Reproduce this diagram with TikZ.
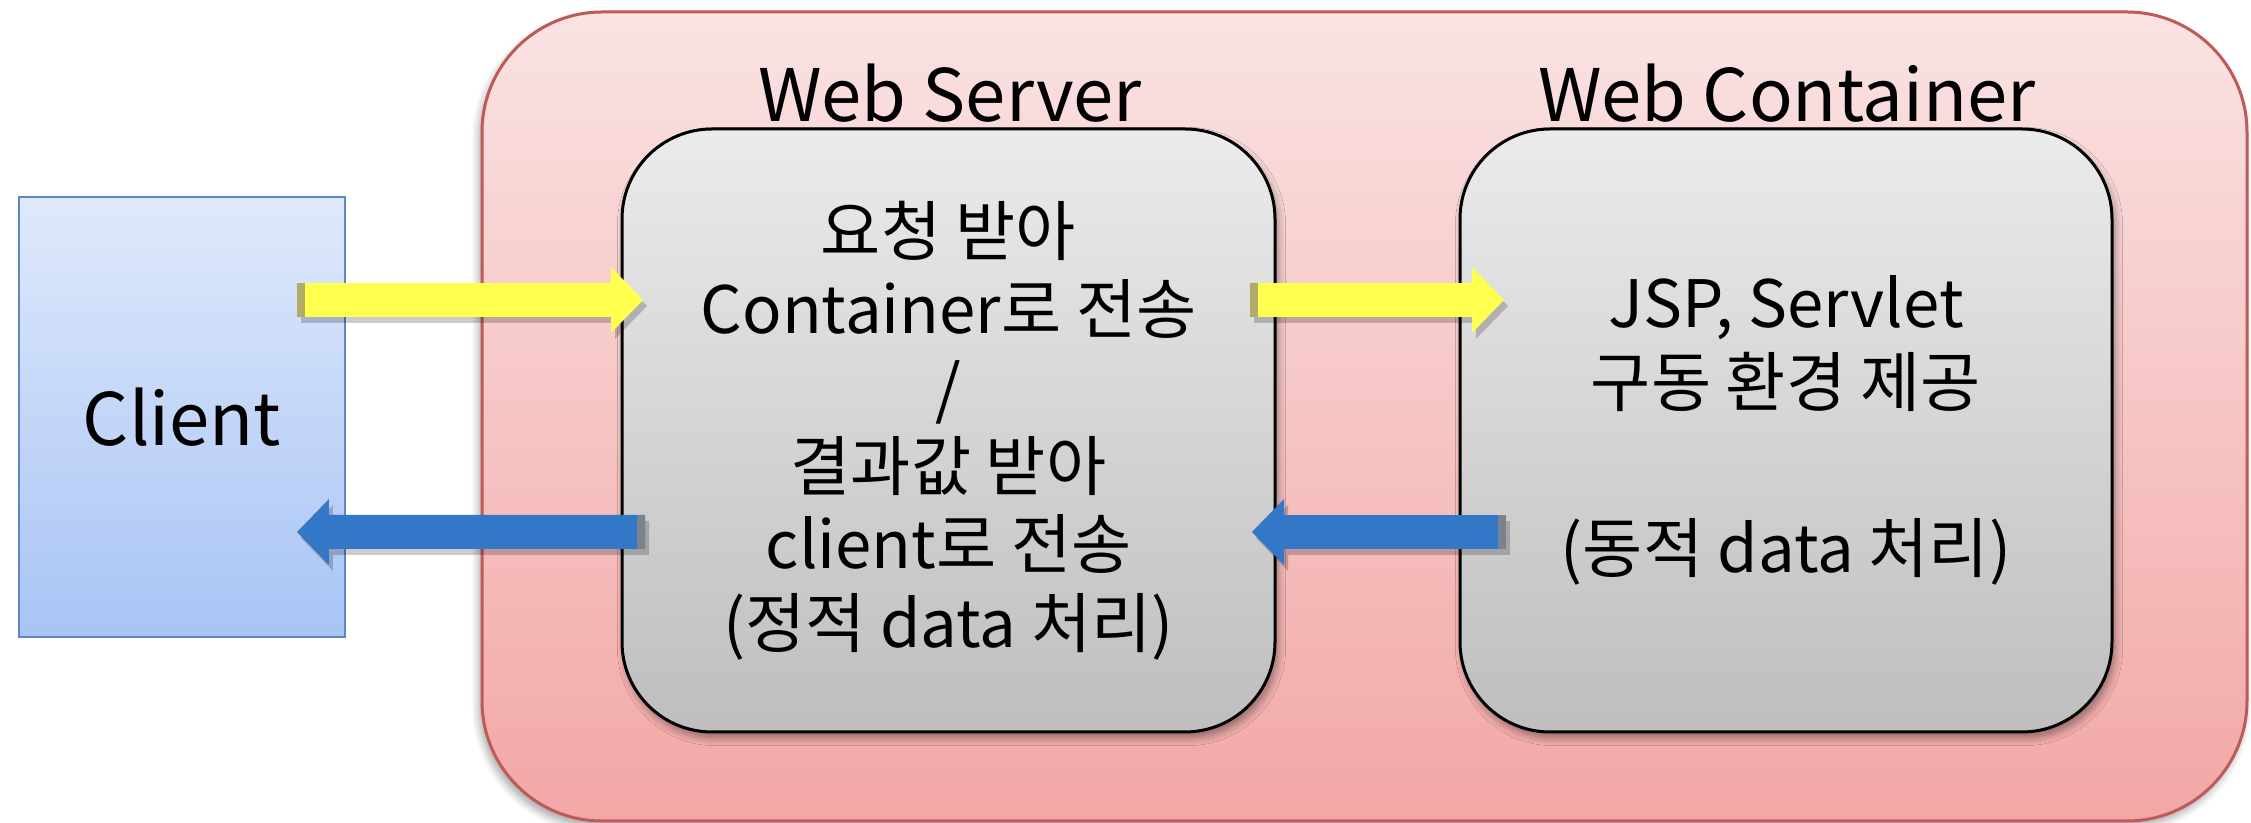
\documentclass[tikz,border=0pt]{standalone}
\usepackage{fontspec}
\setmainfont{Noto Sans CJK KR}
\usetikzlibrary{calc,arrows.meta,shadows.blur}
\definecolor{pinkT}{HTML}{FAE3E3}
\definecolor{pinkB}{HTML}{F2A7A5}
\definecolor{pinkD}{HTML}{BE5A57}
\definecolor{grayT}{HTML}{EBEBEB}
\definecolor{grayB}{HTML}{BEBEBE}
\definecolor{bluT}{HTML}{DFE9FB}
\definecolor{bluB}{HTML}{A8C4F5}
\definecolor{bluD}{HTML}{5C87C4}
\definecolor{yelA}{HTML}{FFFF50}
\definecolor{yelBar}{HTML}{B0AC68}
\definecolor{bluA}{HTML}{3378C6}
\definecolor{bluBar}{HTML}{7A8290}
\tikzset{
  outerbox/.style={draw=pinkD, line width=0.3mm, rounded corners=12mm, top color=pinkT, bottom color=pinkB,
    inner sep=0pt, outer sep=0pt, blur shadow={shadow xshift=-0.3mm, shadow yshift=-0.6mm, shadow blur steps=6, shadow opacity=35}},
  graybox/.style={draw=black, line width=0.3mm, rounded corners=9mm, top color=grayT, bottom color=grayB,
    inner sep=0pt, outer sep=0pt, align=center, font=\bodyfont,
    blur shadow={shadow xshift=0.3mm, shadow yshift=-0.6mm, shadow blur steps=6, shadow opacity=40}},
  clientbox/.style={draw=bluD, line width=0.25mm, top color=bluT, bottom color=bluB,
    inner sep=0pt, outer sep=0pt, font=\titlefont},
  titlelbl/.style={font=\titlefont, inner sep=0pt, anchor=base},
  fatarrow/.style={line width=3.4mm, -{Triangle[length=3.2mm, width=6.6mm, line width=0pt]}},
  shadowarrow/.style={fatarrow, draw=black, opacity=0.2},
}
\newcommand{\bodyfont}{\fontsize{18.6pt}{22.3pt}\selectfont}
\newcommand{\titlefont}{\fontsize{20.6pt}{24pt}\selectfont}
\begin{document}
\begin{tikzpicture}[x=0.1mm, y=-0.1mm]
\useasboundingbox (0,0) rectangle (2251,823);
\node[outerbox, minimum width=176.5mm, minimum height=80.9mm] (outer) at (1364.5,416.5) {};
\node[clientbox, minimum width=32.6mm, minimum height=44mm] (client) at (182,417) {Client};
\node[graybox, minimum width=65.3mm, minimum height=60.3mm] (ws) at (948.5,430.5)
  {\raisebox{-0.4mm}{}요청 받아\\Container로 전송\\/\\결과값 받아\\client로 전송\\(정적 data 처리)};
\node[graybox, minimum width=65.2mm, minimum height=60.3mm] (wc) at (1786,430.5)
  {JSP, Servlet\\구동 환경 제공\\[8.8mm](동적 data 처리)};
\node[titlelbl] (wslbl) at (950,122) {Web Server};
\node[titlelbl] (wclbl) at (1787,122) {Web Container};
% arrow end points
\coordinate (y1s) at ($(client.east)+(-48,-117)$);
\coordinate (y1e) at ($(ws.west)+(21,-130.5)$);
\coordinate (b1s) at ($(ws.west)+(23,101.5)$);
\coordinate (b1e) at ($(client.east)+(-48,115)$);
\coordinate (y2s) at ($(ws.east)+(-25,-130.5)$);
\coordinate (y2e) at ($(wc.west)+(44,-130.5)$);
\coordinate (b2s) at ($(wc.west)+(46,101.5)$);
\coordinate (b2e) at ($(ws.east)+(-23,101.5)$);
% shadows
\foreach \s/\e in {y1s/y1e, b1s/b1e, y2s/y2e, b2s/b2e}{
  \draw[shadowarrow] ($(\s)+(4,6)$) -- ($(\e)+(4,6)$);
}
% arrows
\draw[fatarrow, draw=yelA, fill=yelA] (y1s) -- (y1e);
\draw[fatarrow, draw=yelA, fill=yelA] (y2s) -- (y2e);
\draw[fatarrow, draw=bluA, fill=bluA] (b1s) -- (b1e);
\draw[fatarrow, draw=bluA, fill=bluA] (b2s) -- (b2e);
% tail bars
\draw[line width=3.4mm, yelBar] (y1s) -- ($(y1s)+(8,0)$);
\draw[line width=3.4mm, yelBar] (y2s) -- ($(y2s)+(8,0)$);
\draw[line width=3.4mm, bluBar] (b1s) -- ($(b1s)+(-8,0)$);
\draw[line width=3.4mm, bluBar] (b2s) -- ($(b2s)+(-8,0)$);
\end{tikzpicture}
\end{document}
